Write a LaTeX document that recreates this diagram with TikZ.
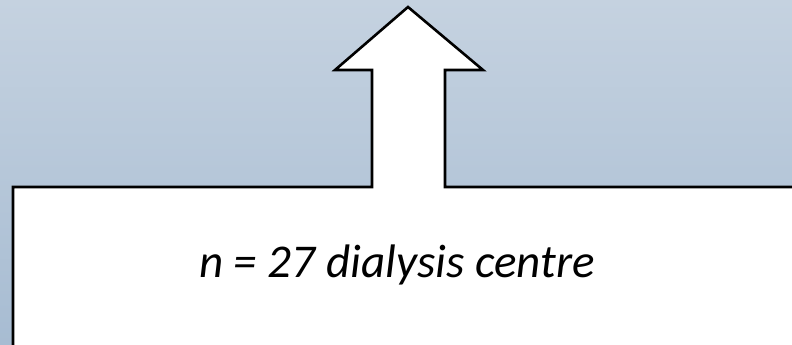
\documentclass[tikz,border=0pt]{standalone}
\usepackage{fontspec}
\setmainfont{Carlito}
\definecolor{bgtop}{HTML}{C5D2E0}
\definecolor{bgbot}{HTML}{A7BCD2}
\tikzset{
  outline/.style={draw=black, line width=2.6pt, fill=white, line join=miter},
  lbl/.style={font=\fontsize{47}{56}\selectfont\itshape, text=black, inner sep=0pt}
}
\begin{document}
\begin{tikzpicture}[x=1pt,y=-1pt]
\useasboundingbox (0,0) rectangle (792,345);
\shade[top color=bgtop, bottom color=bgbot] (0,0) rectangle (792,345);
\begin{scope}
\clip (0,0) rectangle (792,345);
\draw[outline] (13,360) -- (13,187) -- (372,187) -- (372,70) -- (335,70) -- (408,7)
  -- (483,70) -- (445,70) -- (445,187) -- (810,187) -- (810,360) -- cycle;
\end{scope}
\node[lbl, anchor=base] (label) at (397,277) {n = 27 dialysis centre};
\end{tikzpicture}
\end{document}
